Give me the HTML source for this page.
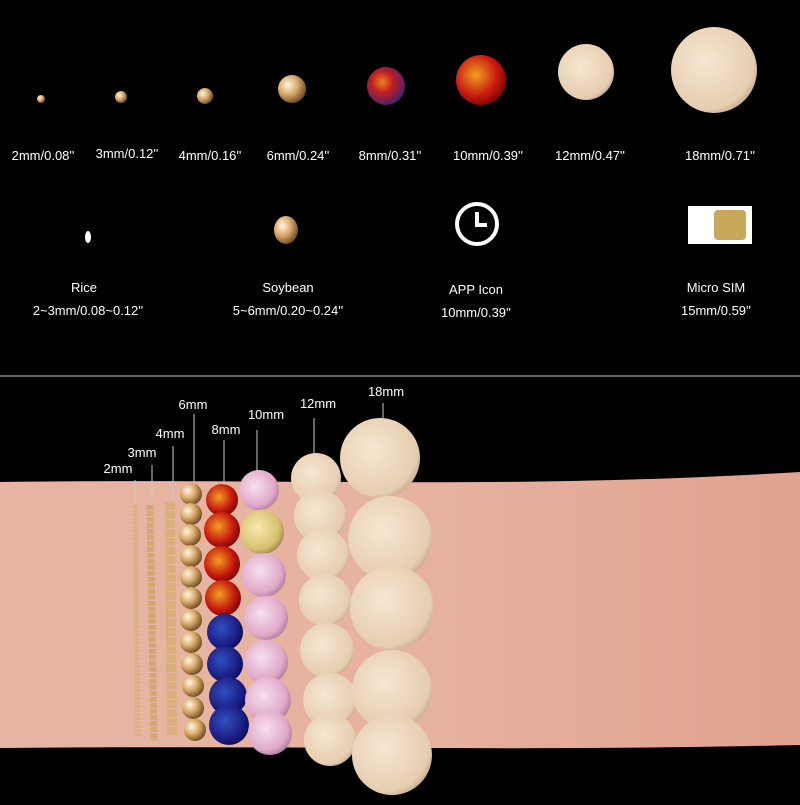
<!DOCTYPE html><html><head><style>body{margin:0;background:#000;width:800px;height:800px;overflow:hidden;font-family:"Liberation Sans",sans-serif}</style></head><body>
<svg width="800" height="800" xmlns="http://www.w3.org/2000/svg" font-family="Liberation Sans, sans-serif" fill="#fff">
<defs>
<radialGradient id="g" cx="35%" cy="35%" r="70%"><stop offset="0" stop-color="#fff6e0"/><stop offset=".5" stop-color="#d9a96a"/><stop offset="1" stop-color="#6a4a20"/></radialGradient>
<radialGradient id="w" cx="40%" cy="40%" r="70%"><stop offset="0" stop-color="#f6e6d2"/><stop offset=".8" stop-color="#e6cdb0"/><stop offset="1" stop-color="#b89878"/></radialGradient>
<radialGradient id="r" cx="40%" cy="40%" r="70%"><stop offset="0" stop-color="#f0a020"/><stop offset=".6" stop-color="#c81a10"/><stop offset="1" stop-color="#600"/></radialGradient>
<radialGradient id="b" cx="40%" cy="40%" r="70%"><stop offset="0" stop-color="#3050c0"/><stop offset=".7" stop-color="#1a1a80"/><stop offset="1" stop-color="#080830"/></radialGradient>
<radialGradient id="p" cx="40%" cy="40%" r="70%"><stop offset="0" stop-color="#f6e0ee"/><stop offset=".7" stop-color="#e0a8c8"/><stop offset="1" stop-color="#a07090"/></radialGradient>
<radialGradient id="y" cx="40%" cy="40%" r="70%"><stop offset="0" stop-color="#f5eab0"/><stop offset=".7" stop-color="#d8c070"/><stop offset="1" stop-color="#907040"/></radialGradient>
<radialGradient id="rb" cx="40%" cy="40%" r="70%"><stop offset="0" stop-color="#f08020"/><stop offset=".4" stop-color="#c02020"/><stop offset="1" stop-color="#302080"/></radialGradient>
<linearGradient id="skin" x1="0" x2="1"><stop offset="0" stop-color="#e6b4a2"/><stop offset=".5" stop-color="#e7b3a0"/><stop offset="1" stop-color="#e0a38f"/></linearGradient>
</defs>
<!-- top row -->
<circle cx="41" cy="99" r="4" fill="url(#g)"/>
<circle cx="121" cy="97" r="6" fill="url(#g)"/>
<circle cx="205" cy="96" r="8" fill="url(#g)"/>
<circle cx="292" cy="89" r="14" fill="url(#g)"/>
<circle cx="386" cy="86" r="19" fill="url(#rb)"/>
<circle cx="481" cy="80" r="25" fill="url(#r)"/>
<circle cx="586" cy="72" r="28" fill="url(#w)"/>
<circle cx="714" cy="70" r="43" fill="url(#w)"/>
<g font-size="13" text-anchor="middle">
<text x="43" y="160">2mm/0.08''</text><text x="127" y="158">3mm/0.12''</text><text x="210" y="160">4mm/0.16''</text><text x="298" y="160">6mm/0.24''</text><text x="390" y="160">8mm/0.31''</text><text x="488" y="160">10mm/0.39''</text><text x="590" y="160">12mm/0.47''</text><text x="720" y="160">18mm/0.71''</text>
<text x="84" y="292">Rice</text><text x="88" y="315">2~3mm/0.08~0.12''</text>
<text x="288" y="292">Soybean</text><text x="288" y="315">5~6mm/0.20~0.24''</text>
<text x="476" y="294">APP Icon</text><text x="476" y="317">10mm/0.39''</text>
<text x="716" y="292">Micro SIM</text><text x="716" y="315">15mm/0.59''</text>
</g>
<ellipse cx="88" cy="237" rx="3" ry="6" fill="#fff"/>
<ellipse cx="286" cy="230" rx="12" ry="14" fill="url(#g)"/>
<circle cx="477" cy="224" r="20" fill="none" stroke="#fff" stroke-width="4"/>
<path d="M477 212V225H487" stroke="#fff" stroke-width="4" fill="none"/>
<rect x="688" y="206" width="64" height="38" fill="#fff"/>
<rect x="714" y="210" width="32" height="30" rx="4" fill="#c9a85a"/>
<line x1="0" y1="376" x2="800" y2="376" stroke="#666" stroke-width="2"/>
<!-- arm -->
<path d="M0 482 C300 478 500 490 800 472 L800 745 C500 752 300 745 0 748 Z" fill="url(#skin)"/>
<!-- chains -->
<line x1="135" y1="505" x2="138" y2="736" stroke="#d8b27a" stroke-width="5" stroke-dasharray="3 1"/>
<line x1="150" y1="505" x2="154" y2="740" stroke="#d4a870" stroke-width="7" stroke-dasharray="5 1"/>
<line x1="170" y1="502" x2="172" y2="735" stroke="#d9b07a" stroke-width="10" stroke-dasharray="8 1"/>
<g id="c6"></g>
<g fill="url(#g)">
<circle cx="191" cy="494" r="11"/><circle cx="191" cy="514" r="11"/><circle cx="190" cy="535" r="11"/><circle cx="191" cy="556" r="11"/><circle cx="191" cy="577" r="11"/><circle cx="191" cy="598" r="11"/><circle cx="191" cy="620" r="11"/><circle cx="191" cy="642" r="11"/><circle cx="192" cy="664" r="11"/><circle cx="193" cy="686" r="11"/><circle cx="193" cy="708" r="11"/><circle cx="195" cy="730" r="11"/>
</g>
<circle cx="222" cy="500" r="16" fill="url(#r)"/><circle cx="222" cy="530" r="18" fill="url(#r)"/><circle cx="222" cy="564" r="18" fill="url(#r)"/><circle cx="223" cy="598" r="18" fill="url(#r)"/>
<circle cx="225" cy="632" r="18" fill="url(#b)"/><circle cx="225" cy="664" r="18" fill="url(#b)"/><circle cx="228" cy="696" r="19" fill="url(#b)"/><circle cx="229" cy="725" r="20" fill="url(#b)"/>
<circle cx="259" cy="490" r="20" fill="url(#p)"/><circle cx="262" cy="532" r="22" fill="url(#y)"/><circle cx="264" cy="575" r="22" fill="url(#p)"/><circle cx="266" cy="618" r="22" fill="url(#p)"/><circle cx="266" cy="662" r="22" fill="url(#p)"/><circle cx="268" cy="700" r="23" fill="url(#p)"/><circle cx="270" cy="733" r="22" fill="url(#p)"/>
<g fill="url(#w)">
<circle cx="316" cy="478" r="25"/><circle cx="320" cy="516" r="26"/><circle cx="323" cy="555" r="26"/><circle cx="325" cy="600" r="26"/><circle cx="327" cy="650" r="27"/><circle cx="330" cy="700" r="27"/><circle cx="330" cy="740" r="26"/>
<circle cx="380" cy="458" r="40"/><circle cx="390" cy="538" r="42"/><circle cx="392" cy="608" r="42"/><circle cx="392" cy="690" r="40"/><circle cx="392" cy="755" r="40"/>
</g>
<!-- labels -->
<g font-size="13" text-anchor="middle">
<text x="118" y="473">2mm</text><text x="142" y="457">3mm</text><text x="170" y="438">4mm</text><text x="193" y="409">6mm</text><text x="226" y="434">8mm</text><text x="266" y="419">10mm</text><text x="318" y="408">12mm</text><text x="386" y="396">18mm</text>
</g>
<g stroke="#ccc" stroke-width="1">
<line x1="135" y1="480" x2="135" y2="500"/><line x1="152" y1="465" x2="152" y2="500"/><line x1="173" y1="446" x2="173" y2="500"/><line x1="194" y1="414" x2="194" y2="485"/><line x1="224" y1="440" x2="224" y2="485"/><line x1="257" y1="430" x2="257" y2="472"/><line x1="314" y1="418" x2="314" y2="455"/><line x1="383" y1="403" x2="383" y2="422"/>
</g>
</svg>
</body></html>
